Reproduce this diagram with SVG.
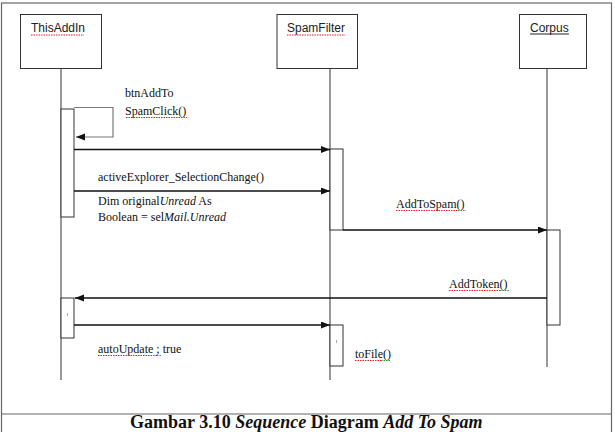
<svg xmlns="http://www.w3.org/2000/svg" width="615" height="432" viewBox="0 0 615 432">
<style>
.frame{fill:none;stroke:#666;stroke-width:1.2}
.box{fill:#fff;stroke:#333;stroke-width:1}
.life{stroke:#333;stroke-width:1;fill:none}
.act{fill:#fff;stroke:#333;stroke-width:1}
.msg{stroke:#111;stroke-width:1.3;fill:none}
.self{stroke:#777;stroke-width:1.2;fill:none}
.obj{font-family:"Liberation Sans",Arial,sans-serif;font-size:12px;fill:#222}
.lbl{font-family:"Liberation Serif","Times New Roman",serif;font-size:12px;fill:#111}
.cap{font-family:"Liberation Serif","Times New Roman",serif;font-size:18px;font-weight:bold;fill:#111}
.sp{stroke:#d22;stroke-width:1;stroke-dasharray:1.5 1;fill:none}
.gr{stroke:#2a2;stroke-width:1;stroke-dasharray:1.5 1;fill:none}
.tick{stroke:#aaa;stroke-width:1}
</style>
<defs>
<marker id="ah" markerUnits="userSpaceOnUse" markerWidth="10" markerHeight="8" refX="9" refY="3.5" orient="auto">
<path d="M0,0 L9,3.5 L0,7 z" fill="#111"/>
</marker>
</defs>
<rect width="615" height="432" fill="#fff"/>
<rect class="frame" x="1.5" y="3" width="610" height="440"/>
<line class="frame" x1="1.5" y1="414" x2="611.5" y2="414"/>

<g id="ThisAddIn">
<rect class="box" x="20.5" y="14.5" width="81" height="54"/>
<text class="obj" x="31" y="32">ThisAddIn</text>
<path class="sp" d="M31,35 H84"/>
<line class="life" x1="61" y1="68" x2="61" y2="380"/>
<rect class="act" x="61" y="109" width="13" height="108"/>
<rect class="act" x="61" y="298" width="13" height="40"/>
<line class="tick" x1="67.5" y1="313" x2="67.5" y2="316"/>
</g>

<g id="SpamFilter">
<rect class="box" x="277" y="14.5" width="80.5" height="54"/>
<text class="obj" x="287" y="32">SpamFilter</text>
<path class="sp" d="M287,35 H345"/>
<line class="life" x1="330" y1="68" x2="330" y2="380"/>
<rect class="act" x="330" y="149" width="13" height="81"/>
<rect class="act" x="330" y="325" width="13" height="41"/>
<line class="tick" x1="336.5" y1="340" x2="336.5" y2="343"/>
</g>

<g id="Corpus">
<rect class="box" x="519.5" y="14.5" width="67" height="54"/>
<text class="obj" x="530" y="32">Corpus</text>
<line x1="530" y1="34" x2="569" y2="34" stroke="#222" stroke-width="1"/>
<line class="life" x1="547" y1="68" x2="547" y2="367"/>
<rect class="act" x="547" y="230" width="13" height="95"/>
</g>

<g id="connectors">
<path class="self" d="M74,107.5 H113 V137 H76" marker-end="url(#ah)"/>
<line class="msg" x1="74" y1="149.5" x2="330" y2="149.5" marker-end="url(#ah)"/>
<line class="msg" x1="74" y1="191" x2="330" y2="191" marker-end="url(#ah)"/>
<line class="msg" x1="343" y1="230" x2="547" y2="230" marker-end="url(#ah)"/>
<line class="msg" x1="547" y1="298" x2="75" y2="298" marker-end="url(#ah)"/>
<line class="msg" x1="74" y1="325" x2="330" y2="325" marker-end="url(#ah)"/>
</g>

<g id="labels">
<text class="lbl" x="125" y="97">btnAddTo</text>
<text class="lbl" x="125" y="115">SpamClick()</text>
<path class="sp" d="M126,117.5 H181"/><path class="gr" d="M181,117.5 H187"/>
<text class="lbl" x="98" y="181">activeExplorer_SelectionChange()</text>
<text class="lbl" x="98" y="205">Dim original<tspan font-style="italic">Unread</tspan> As</text>
<text class="lbl" x="98" y="221">Boolean = sel<tspan font-style="italic">Mail.Unread</tspan></text>
<text class="lbl" x="396" y="208">AddToSpam()</text>
<path class="sp" d="M396,210.5 H458"/><path class="gr" d="M458,210.5 H466"/>
<text class="lbl" x="449" y="288">AddToken()</text>
<path class="sp" d="M449,290.5 H500"/><path class="gr" d="M500,290.5 H510"/>
<text class="lbl" x="98" y="353">autoUpdate ; true</text>
<path class="sp" d="M98,355.5 H157"/><path class="gr" d="M157,355.5 H161"/>
<text class="lbl" x="355" y="358">toFile()</text>
<path class="sp" d="M355,360.5 H381"/><path class="gr" d="M381,360.5 H390"/>
</g>

<text class="cap" x="130" y="428">Gambar 3.10 <tspan font-style="italic">Sequence</tspan> Diagram <tspan font-style="italic">Add To Spam</tspan></text>
</svg>
